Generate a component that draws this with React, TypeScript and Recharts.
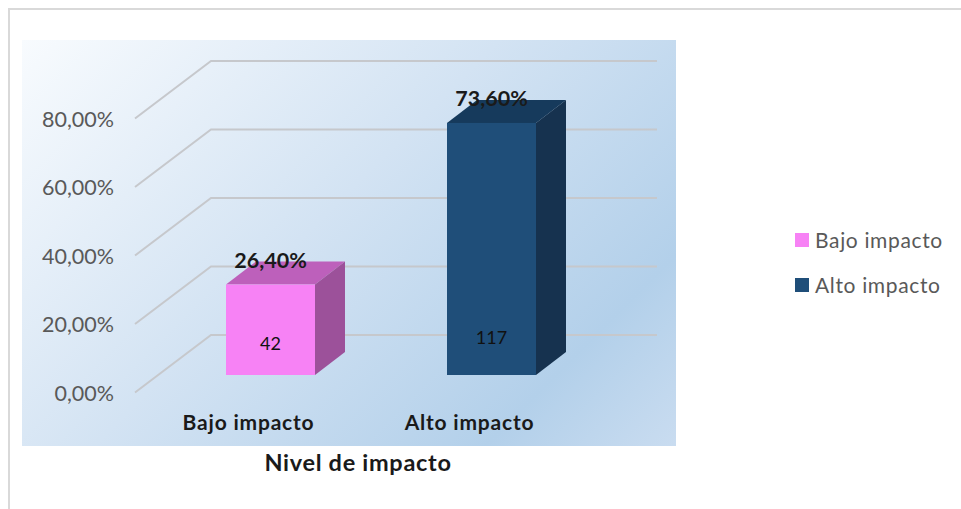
import { BarChart, Bar, XAxis, YAxis, Legend, LabelList, CartesianGrid } from "recharts";

const CATEGORIES = ["Bajo impacto", "Alto impacto"];
const BAJO_PERCENT = [26.4, null];
const ALTO_PERCENT = [null, 73.6];
const COUNTS = [42, 117];
const Y_TICKS = [0, 20, 40, 60, 80];

const chartData = CATEGORIES.map((name, i) => ({
  name,
  bajo: BAJO_PERCENT[i],
  alto: ALTO_PERCENT[i],
  count: COUNTS[i],
}));

const FONT = "Lato, 'Noto Sans', sans-serif";
const pct = (v: number) => v.toFixed(2).replace(".", ",") + "%";

// fake 3D offsets, same as the original office chart
const DEPTH_X = 30;
const DEPTH_Y = 23;

// wall + floor line for each tick, goes in the grid so bars sit on top
function GridLine({ y1 }: any) {
  return (
    <path
      d={`M135 ${y1 + 17.5} L211 ${y1 - 40} L657 ${y1 - 40}`}
      fill="none"
      stroke="#c6c8cc"
      strokeWidth={2}
    />
  );
}

function YTick({ y, payload }: any) {
  return (
    <text x={114} y={y + 25.5} textAnchor="end" fontSize={21.5} fontFamily={FONT} fill="#595959">
      {pct(payload.value)}
    </text>
  );
}

function XTick({ x, payload }: any) {
  return (
    <text x={x - 22} y={430} textAnchor="middle" fontSize={21} letterSpacing={0.8} fontWeight={700} fontFamily={FONT} fill="#1a1a1a">
      {payload.value}
    </text>
  );
}

function Box3D({ x, y, width, height, front, top, side }: any) {
  if (!height || height <= 0) return null;
  const r = x + width;
  const b = y + height;
  return (
    <g>
      <polygon
        points={`${x},${y} ${x + DEPTH_X},${y - DEPTH_Y} ${r + DEPTH_X},${y - DEPTH_Y} ${r},${y}`}
        fill={top}
      />
      <polygon
        points={`${r},${y} ${r + DEPTH_X},${y - DEPTH_Y} ${r + DEPTH_X},${b - DEPTH_Y} ${r},${b}`}
        fill={side}
      />
      <rect x={x} y={y} width={width} height={height} fill={front} />
    </g>
  );
}

function PercentLabel({ x, y, width, value }: any) {
  if (value == null) return null;
  return (
    <text x={x + width / 2} y={y - 17} textAnchor="middle" fontSize={21.5} fontWeight={700} fontFamily={FONT} fill="#1a1a1a">
      {pct(value)}
    </text>
  );
}

function CountLabel({ x, y, width, height, value, lift }: any) {
  if (!height || height <= 0) return null;
  return (
    <text x={x + width / 2} y={y + height - lift} textAnchor="middle" fontSize={18} fontFamily={FONT} fill="#111">
      {value}
    </text>
  );
}

function LegendBox({ payload }: any) {
  return (
    <div>
      {(payload || []).map((p: any) => (
        <div key={p.value} style={{ display: "flex", alignItems: "center", height: 45 }}>
          <span style={{ width: 14, height: 14, background: p.color, marginRight: 6 }} />
          <span style={{ fontFamily: FONT, fontSize: 21, letterSpacing: 0.65, color: "#595959", whiteSpace: "nowrap" }}>{p.value}</span>
        </div>
      ))}
    </div>
  );
}

export default function App() {
  return (
    <div style={{ position: "absolute", left: 0, top: 0, width: 961, height: 509, overflow: "hidden", background: "#fff" }}>
      <div style={{ position: "absolute", left: 8, top: 8, width: 953, height: 501, borderTop: "2px solid #d9d9d9", borderLeft: "2px solid #d9d9d9" }} />
      <div
        style={{
          position: "absolute",
          left: 22,
          top: 40,
          width: 654,
          height: 406,
          background: "linear-gradient(135deg, #f8fbfe 0%, #d3e3f3 45%, #b3d0ea 82%, #c9dcf0 100%)",
        }}
      />
      <div style={{ position: "absolute", left: 0, top: 0 }}>
        <BarChart
          width={961}
          height={509}
          data={chartData}
          margin={{ top: 101, right: 359, bottom: 74, left: 100 }}
          style={{ background: "transparent" }}
        >
          <CartesianGrid vertical={false} horizontal={<GridLine />} horizontalValues={Y_TICKS} />
          <YAxis
            width={60}
            domain={[0, 80]}
            ticks={Y_TICKS}
            axisLine={false}
            tickLine={false}
            tick={<YTick />}
          />
          <XAxis
            dataKey="name"
            height={60}
            axisLine={false}
            tickLine={false}
            tick={<XTick />}
            label={{
              value: "Nivel de impacto",
              position: "insideBottom",
              dx: -23,
              dy: 41,
              fontFamily: FONT,
              fontSize: 23.5,
              letterSpacing: 0.7,
              fontWeight: 700,
              fill: "#1a1a1a",
            }}
          />
          <Legend
            layout="vertical"
            align="center"
            verticalAlign="middle"
            itemSorter={null}
            content={<LegendBox />}
            wrapperStyle={{ left: 795, top: 217, width: 166 }}
          />
          <Bar
            name="Bajo impacto"
            dataKey="bajo"
            stackId="a"
            barSize={89}
            fill="#f782f5"
            isAnimationActive={false}
            shape={<Box3D front="#f782f5" top="#bd60bb" side="#9c519a" />}
          >
            <LabelList dataKey="bajo" content={<PercentLabel />} />
            <LabelList dataKey="count" content={<CountLabel lift={25} />} />
          </Bar>
          <Bar
            name="Alto impacto"
            dataKey="alto"
            stackId="a"
            barSize={89}
            fill="#1f4e79"
            isAnimationActive={false}
            shape={<Box3D front="#1f4e79" top="#163a5c" side="#16324f" />}
          >
            <LabelList dataKey="alto" content={<PercentLabel />} />
            <LabelList dataKey="count" content={<CountLabel lift={31} />} />
          </Bar>
        </BarChart>
      </div>
    </div>
  );
}
